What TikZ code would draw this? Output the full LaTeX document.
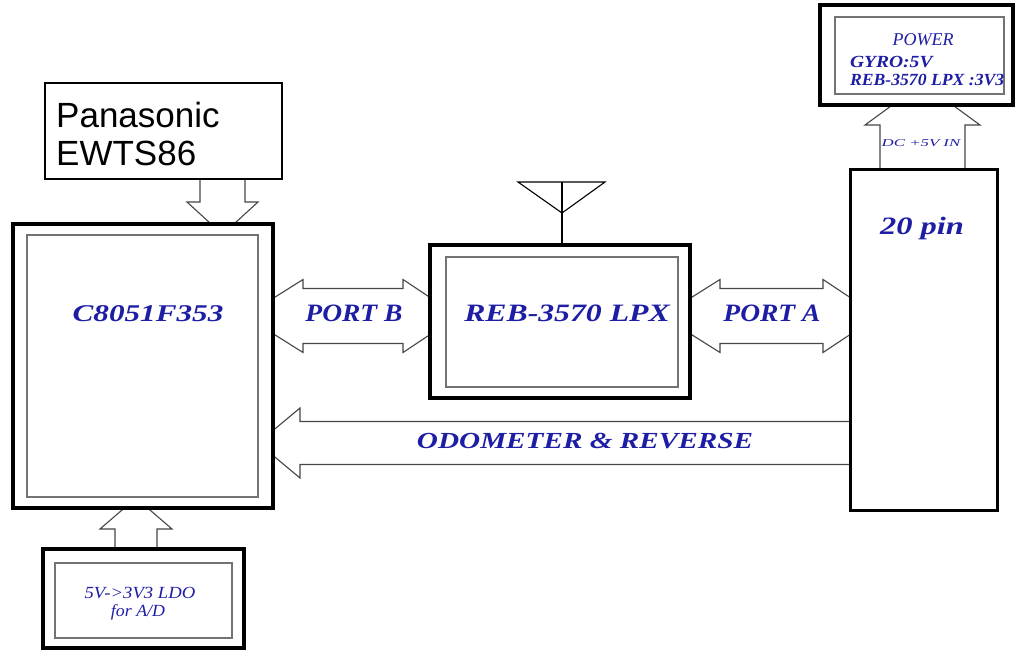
\documentclass[tikz,border=0pt]{standalone}
\usepackage{fontspec}
\usepackage{graphicx}
\setmainfont{Liberation Serif}
\newfontfamily\arialfam{Liberation Sans}
\usetikzlibrary{calc}
\definecolor{txtblue}{RGB}{30,30,165}
\definecolor{arrgray}{RGB}{70,70,70}
\definecolor{innergray}{RGB}{115,115,115}
\newcommand\setfs[1]{\fontsize{#1}{#1}\selectfont}
\newcommand\stretchtxt[2]{\scalebox{#1}[1]{#2}}
\pgfdeclarelayer{bg}
\pgfsetlayers{bg,main}
\tikzset{
  outerbox/.style={draw=black, line width=3.2pt, fill=white, inner sep=0pt, outer sep=0pt, rectangle},
  thinbox/.style={draw=black, line width=1.5pt, fill=white, inner sep=0pt, outer sep=0pt, rectangle},
  innerbox/.style={draw=innergray, line width=1.4pt, inner sep=0pt, outer sep=0pt, rectangle},
  lbl/.style={text=txtblue, inner sep=0pt, outer sep=0pt},
  blockarrow/.style={draw=arrgray, line width=1.1pt, fill=white, line join=miter},
  antline/.style={draw=black, line width=1.1pt}
}
\begin{document}
\begin{tikzpicture}[x=1pt,y=-1pt]
\useasboundingbox (0,0) rectangle (1015,650);

% ---------- boxes ----------
\node[thinbox, minimum width=237pt, minimum height=96pt] (pan) at (163.5,131) {};
\node[outerbox, minimum width=260pt, minimum height=284pt] (c80) at (143,366) {};
\node[innerbox, minimum width=231pt, minimum height=262pt] (c80i) at (142.5,366) {};
\node[outerbox, minimum width=201pt, minimum height=99pt] (ldo) at (143.5,598.5) {};
\node[innerbox, minimum width=177pt, minimum height=75pt] (ldoi) at (143.5,600.5) {};
\node[outerbox, minimum width=260pt, minimum height=153pt] (reb) at (560,321.5) {};
\node[innerbox, minimum width=232pt, minimum height=130pt] (rebi) at (562,322) {};
\node[outerbox, line width=3pt, minimum width=147pt, minimum height=340pt] (pin) at (923.5,340) {};
\node[outerbox, minimum width=193pt, minimum height=100pt] (pwr) at (916.5,55) {};
\node[innerbox, minimum width=169pt, minimum height=77pt] (pwri) at (919.5,55.5) {};

% ---------- connector end points ----------
\coordinate (pbL) at (c80.east |- 0,316);
\coordinate (pbR) at (reb.west |- 0,316);
\coordinate (paL) at (reb.east |- 0,316);
\coordinate (paR) at (pin.west |- 0,316);
\coordinate (odL) at (c80.east |- 0,443);
\coordinate (odR) at (pin.west |- 0,443);
\coordinate (pdT) at (pan.south -| 222.5,0);
\coordinate (pdB) at (c80.north -| 222.5,0);
\coordinate (luT) at (c80.south -| 136,0);
\coordinate (luB) at (ldo.north -| 136,0);
\coordinate (duT) at (pwr.south -| 922.5,0);
\coordinate (duB) at (pin.north -| 922.5,0);
\coordinate (ant) at (reb.north -| 562,0);
\coordinate (antTop) at (562,182);

\begin{pgfonlayer}{bg}
% PORT B
\draw[blockarrow] ($(pbL)+(-28,0)$) -- ($(pbL)+(30,-36.5)$) -- ($(pbL)+(30,-27.5)$)
  -- ($(pbR)+(-27,-27.5)$) -- ($(pbR)+(-27,-36.5)$) -- ($(pbR)+(28,0)$)
  -- ($(pbR)+(-27,36.5)$) -- ($(pbR)+(-27,27.5)$) -- ($(pbL)+(30,27.5)$)
  -- ($(pbL)+(30,36.5)$) -- cycle;
% PORT A
\draw[blockarrow] ($(paL)+(-28,0)$) -- ($(paL)+(30,-36.5)$) -- ($(paL)+(30,-27.5)$)
  -- ($(paR)+(-27,-27.5)$) -- ($(paR)+(-27,-36.5)$) -- ($(paR)+(28,0)$)
  -- ($(paR)+(-27,36.5)$) -- ($(paR)+(-27,27.5)$) -- ($(paL)+(30,27.5)$)
  -- ($(paL)+(30,36.5)$) -- cycle;
% ODOMETER & REVERSE
\draw[blockarrow] ($(odL)+(-15,0)$) -- ($(odL)+(27,-35)$) -- ($(odL)+(27,-21.5)$)
  -- ($(odR)+(10,-21.5)$) -- ($(odR)+(10,21.5)$) -- ($(odL)+(27,21.5)$)
  -- ($(odL)+(27,35)$) -- cycle;
% Panasonic -> C8051
\draw[blockarrow] ($(pdT)+(-22.5,-10)$) -- ($(pdB)+(-22.5,-22)$) -- ($(pdB)+(-35.5,-22)$)
  -- ($(pdB)+(0,10.5)$) -- ($(pdB)+(35.5,-22)$) -- ($(pdB)+(22.5,-22)$)
  -- ($(pdT)+(22.5,-10)$) -- cycle;
% LDO -> C8051
\draw[blockarrow] ($(luB)+(-21,10)$) -- ($(luT)+(-21,21)$) -- ($(luT)+(-36,21)$)
  -- ($(luT)+(0,-10)$) -- ($(luT)+(36,21)$) -- ($(luT)+(21,21)$)
  -- ($(luB)+(21,10)$) -- cycle;
% 20 pin -> POWER
\draw[blockarrow] ($(duB)+(-42.5,10)$) -- ($(duT)+(-42.5,20)$) -- ($(duT)+(-57.5,20)$)
  -- ($(duT)+(0,-22)$) -- ($(duT)+(57.5,20)$) -- ($(duT)+(42.5,20)$)
  -- ($(duB)+(42.5,10)$) -- cycle;
% antenna
\draw[antline] (antTop) -- (ant);
\draw[antline, line join=miter] (518,182) -- (605,182) -- (562,213) -- cycle;
\end{pgfonlayer}

% ---------- texts ----------
\node[anchor=north west, inner sep=0pt, align=left, font=\arialfam\fontsize{35}{38}\selectfont] (pant) at (56,102) {Panasonic\\EWTS86};
\node[lbl, font=\bfseries\itshape\setfs{24}] (c80t) at (148,314) {\stretchtxt{1.3}{C8051F353}};
\node[lbl, font=\bfseries\itshape\setfs{25}] (pbt) at (354,313) {\stretchtxt{1.1}{PORT B}};
\node[lbl, font=\bfseries\itshape\setfs{25}] (rebt) at (567,313) {\stretchtxt{1.27}{REB-3570 LPX}};
\node[lbl, font=\bfseries\itshape\setfs{25}] (pat) at (772,313) {\stretchtxt{1.1}{PORT A}};
\node[lbl, font=\bfseries\itshape\setfs{23}] (odt) at (585,441) {\stretchtxt{1.27}{ODOMETER \& REVERSE}};
\node[lbl, font=\bfseries\itshape\setfs{25}] (pint) at (922,228) {\stretchtxt{1.3}{20 pin}};
\node[lbl, font=\itshape\setfs{18}] (pwrt) at (923,40) {POWER};
\node[lbl, anchor=west, font=\bfseries\itshape\setfs{17}] (gyrot) at (850,62) {\stretchtxt{1.15}{GYRO:5V}};
\node[lbl, anchor=west, font=\bfseries\itshape\setfs{17}] (rebv) at (850,79.5) {\stretchtxt{1.04}{REB-3570 LPX :3V3}};
\node[lbl, font=\itshape\setfs{10.5}] (dct) at (921,143) {\stretchtxt{1.6}{DC +5V IN}};
\node[lbl, font=\itshape\setfs{17}] (ldot1) at (140,593) {\stretchtxt{1.1}{5V->3V3 LDO}};
\node[lbl, font=\itshape\setfs{17}] (ldot2) at (138,612) {\stretchtxt{1.05}{for A/D}};
\end{tikzpicture}
\end{document}
